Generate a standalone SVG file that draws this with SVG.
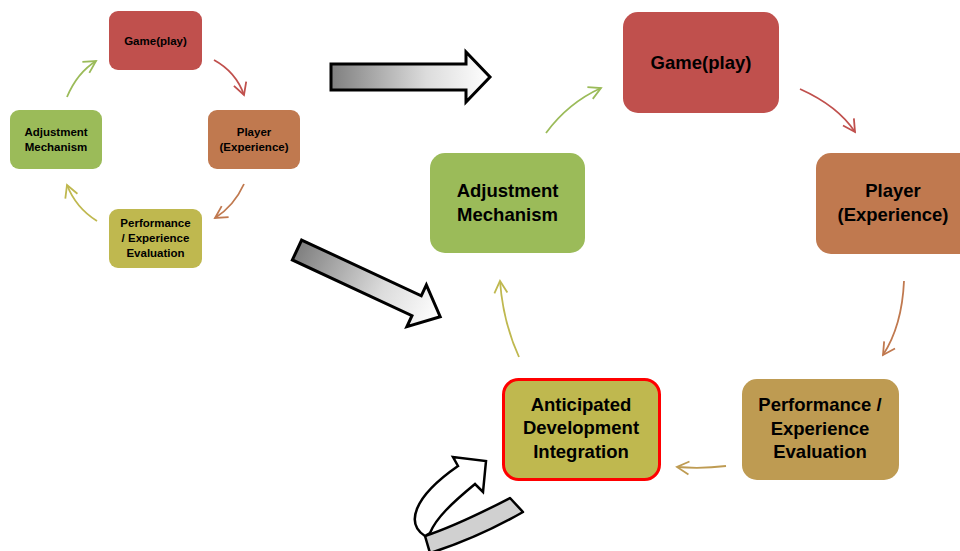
<svg xmlns="http://www.w3.org/2000/svg" width="960" height="551" viewBox="0 0 960 551">
<defs>
<style>
.t{font-family:"Liberation Sans",Arial,sans-serif;font-weight:bold;fill:#000;text-anchor:middle}
.s{font-size:11.5px}
.b{font-size:18.5px}
.c{fill:none;stroke-width:1.8}
.blk{stroke:#000;stroke-width:3;stroke-linejoin:miter}
</style>
<linearGradient id="g" x1="0" y1="0" x2="1" y2="0">
<stop offset="0" stop-color="#7f7f7f"/>
<stop offset="0.6" stop-color="#dcdcdc"/>
<stop offset="1" stop-color="#ffffff"/>
</linearGradient>
<marker id="mr" markerUnits="userSpaceOnUse" markerWidth="20" markerHeight="20" refX="12" refY="10" orient="auto" overflow="visible"><path d="M0,3.5 L12,10 L0,16.5" fill="none" stroke="#C0504D" stroke-width="1.8"/></marker>
<marker id="mo" markerUnits="userSpaceOnUse" markerWidth="20" markerHeight="20" refX="12" refY="10" orient="auto" overflow="visible"><path d="M0,3.5 L12,10 L0,16.5" fill="none" stroke="#C0794F" stroke-width="1.8"/></marker>
<marker id="mt" markerUnits="userSpaceOnUse" markerWidth="20" markerHeight="20" refX="12" refY="10" orient="auto" overflow="visible"><path d="M0,3.5 L12,10 L0,16.5" fill="none" stroke="#BE9B52" stroke-width="1.8"/></marker>
<marker id="my" markerUnits="userSpaceOnUse" markerWidth="20" markerHeight="20" refX="12" refY="10" orient="auto" overflow="visible"><path d="M0,3.5 L12,10 L0,16.5" fill="none" stroke="#BFB84F" stroke-width="1.8"/></marker>
<marker id="mg" markerUnits="userSpaceOnUse" markerWidth="20" markerHeight="20" refX="12" refY="10" orient="auto" overflow="visible"><path d="M0,3.5 L12,10 L0,16.5" fill="none" stroke="#9BBB59" stroke-width="1.8"/></marker>
</defs>

<g id="connectors">
<path class="c" stroke="#C0504D" marker-end="url(#mr)" d="M214,60 Q236,72 244,95"/>
<path class="c" stroke="#C0794F" marker-end="url(#mo)" d="M244,184 Q234,206 215,218"/>
<path class="c" stroke="#BFB84F" marker-end="url(#my)" d="M97,221 Q76,208 67,185"/>
<path class="c" stroke="#9BBB59" marker-end="url(#mg)" d="M67,97 Q77,73 96,61"/>

<path class="c" stroke="#C0504D" marker-end="url(#mr)" d="M800,89 Q838,106 855,132"/>
<path class="c" stroke="#C0794F" marker-end="url(#mo)" d="M904,281 Q902,326 883,355"/>
<path class="c" stroke="#BE9B52" marker-end="url(#mt)" d="M726,466 Q702,469 677,467"/>
<path class="c" stroke="#BFB84F" marker-end="url(#my)" d="M519,357 Q503,322 500,281"/>
<path class="c" stroke="#9BBB59" marker-end="url(#mg)" d="M546,133 Q568,103 601,88"/>
</g>

<g id="arrow-right">
<path class="blk" fill="url(#g)" d="M331,64 L466,64 L466,52 L490,77 L466,102 L466,90 L331,90 Z"/>
</g>
<g id="arrow-diagonal" transform="translate(297,250) rotate(25)">
<path class="blk" fill="url(#g)" d="M0,-11 L132,-11 L132,-23 L158,0 L132,23 L132,11 L0,11 Z"/>
</g>
<g id="arrow-uturn">
<path fill="#d0d0d0" stroke="#000" stroke-width="2.5" stroke-linejoin="round" d="M425,536 C455,526 485,511 510,498 L523,512 C495,528 462,543 430,553 Z"/>
<path fill="#fff" stroke="#000" stroke-width="2.5" stroke-linejoin="miter" d="M425,536 C406,524 412,498 458,466 L453,457 L486,461 L483,492 L475,484 C452,503 436,518 430,533 Z"/>
</g>

<g id="s-game">
<rect x="109" y="11" width="93" height="59" rx="9" fill="#C0504D"/>
<text class="t s" x="155.5" y="45">Game(play)</text>
</g>
<g id="s-player">
<rect x="208" y="110" width="92" height="59" rx="9" fill="#C0794F"/>
<text class="t s" x="254" y="136">Player</text>
<text class="t s" x="254" y="151">(Experience)</text>
</g>
<g id="s-perf">
<rect x="109" y="209" width="93" height="59" rx="9" fill="#BFB84F"/>
<text class="t s" x="155.5" y="227">Performance</text>
<text class="t s" x="155.5" y="242">/ Experience</text>
<text class="t s" x="155.5" y="257">Evaluation</text>
</g>
<g id="s-adj">
<rect x="10" y="110" width="92" height="59" rx="9" fill="#9BBB59"/>
<text class="t s" x="56" y="136">Adjustment</text>
<text class="t s" x="56" y="151">Mechanism</text>
</g>

<g id="b-game">
<rect x="623" y="12" width="156" height="101" rx="15" fill="#C0504D"/>
<text class="t b" x="701" y="69">Game(play)</text>
</g>
<g id="b-player">
<rect x="816" y="153" width="157" height="101" rx="15" fill="#C0794F"/>
<text class="t b" x="893" y="197">Player</text>
<text class="t b" x="893" y="221">(Experience)</text>
</g>
<g id="b-perf">
<rect x="742" y="379" width="157" height="101" rx="15" fill="#BE9B52"/>
<text class="t b" x="820" y="411">Performance /</text>
<text class="t b" x="820" y="435">Experience</text>
<text class="t b" x="820" y="458">Evaluation</text>
</g>
<g id="b-antic">
<rect x="503.5" y="379.5" width="156" height="100" rx="15" fill="#BFB84F" stroke="#FF0000" stroke-width="3"/>
<text class="t b" x="581" y="411">Anticipated</text>
<text class="t b" x="581" y="434">Development</text>
<text class="t b" x="581" y="458">Integration</text>
</g>
<g id="b-adj">
<rect x="430" y="153" width="155" height="100" rx="15" fill="#9BBB59"/>
<text class="t b" x="507.5" y="197">Adjustment</text>
<text class="t b" x="507.5" y="221">Mechanism</text>
</g>
</svg>
